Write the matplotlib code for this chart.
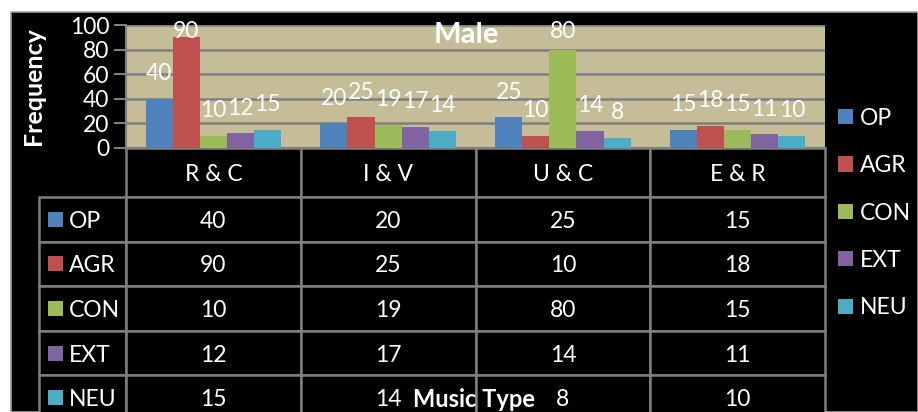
import matplotlib
matplotlib.use("Agg")
import matplotlib.pyplot as plt
from matplotlib.patches import Rectangle
import numpy as np

plt.rcParams['font.family'] = ['Lato', 'DejaVu Sans']

categories = ["R & C", "I & V", "U & C", "E & R"]
series_names = ["OP", "AGR", "CON", "EXT", "NEU"]
OP = [40, 20, 25, 15]
AGR = [90, 25, 10, 18]
CON = [10, 19, 80, 15]
EXT = [12, 17, 14, 11]
NEU = [15, 14, 8, 10]
values = [OP, AGR, CON, EXT, NEU]
colors = ["#4F81BD", "#C0504D", "#9BBB59", "#8064A2", "#4BACC6"]
yticks = [0, 20, 40, 60, 80, 100]

W, H = 918, 412
fig = plt.figure(figsize=(W / 100, H / 100), dpi=100, facecolor="white")

def fx(px):
    return px / W

def fy(py):
    return 1 - py / H

GRAY = "#7F7F7F"
FS = 16.5

# overlay axes in pixel coordinates (background, table, annotations)
ov = fig.add_axes([0, 0, 1, 1])
ov.set_xlim(0, W)
ov.set_ylim(H, 0)
ov.axis("off")
ov.set_zorder(0)
ov.add_patch(Rectangle((11, 12), W - 11, H - 12, facecolor="black",
                       edgecolor="#A0A0A0", linewidth=1.2, zorder=0))

L, R, T, B = 126, 825, 25, 148
ax = fig.add_axes([fx(L), fy(B), fx(R) - fx(L), fy(T) - fy(B)])
ax.set_zorder(1)
ax.set_facecolor("#C4BD97")
ax.set_ylim(0, 100)
ax.set_xlim(-0.5, len(categories) - 0.5)
ax.set_yticks(yticks)
ax.set_yticklabels([str(t) for t in yticks], color="white", fontsize=FS)
ax.tick_params(axis="y", length=9, width=1.5, color=GRAY, pad=3)
ax.set_xticks([])
ax.grid(axis="y", color=GRAY, linewidth=1.8)
ax.set_axisbelow(True)
for s in ["top", "right"]:
    ax.spines[s].set_visible(False)
ax.spines["left"].set_color(GRAY)
ax.spines["left"].set_linewidth(1.5)
ax.spines["bottom"].set_color(GRAY)
ax.spines["bottom"].set_linewidth(1.5)

x = np.arange(len(categories))
n = len(series_names)
bw = 0.155
bars = []
for i, (name, vals, c) in enumerate(zip(series_names, values, colors)):
    xs = x + (i - (n - 1) / 2) * bw
    b = ax.bar(xs, vals, width=bw, color=c, label=name, zorder=3)
    bars.append(b)
    for xi, v in zip(xs, vals):
        yb = min(v + 15.2, 89.4)
        ax.text(xi, yb, str(v), ha="center", va="baseline", color="white", fontsize=FS, zorder=4)

ax.set_ylabel("Frequency", color="white", fontsize=18, fontweight="bold")
ax.yaxis.set_label_coords((45 - L) / (R - L), 0.5)

ov2 = fig.add_axes([0, 0, 1, 1])
ov2.set_xlim(0, W)
ov2.set_ylim(H, 0)
ov2.axis("off")
ov2.set_zorder(2)
ov2.patch.set_alpha(0)

ov2.text(466, 43, "Male", ha="center", va="baseline", color="white",
         fontsize=21, fontweight="bold")

# data table below the chart
tab_left, tab_top = 39, 148
hdr_h, row_h = 49, 44.6
col_edges = np.linspace(L, R, len(categories) + 1)
lw_t = 1.8
for j, cat in enumerate(categories):
    ov.add_patch(Rectangle((col_edges[j], tab_top), col_edges[j + 1] - col_edges[j], hdr_h,
                           facecolor="black", edgecolor=GRAY, linewidth=lw_t, zorder=2))
    ov.text((col_edges[j] + col_edges[j + 1]) / 2, tab_top + hdr_h / 2, cat, ha="center",
            va="center_baseline", color="white", fontsize=FS, zorder=3)
for i, name in enumerate(series_names):
    y0 = tab_top + hdr_h + row_h * i
    ov.add_patch(Rectangle((tab_left, y0), L - tab_left, row_h, facecolor="black",
                           edgecolor=GRAY, linewidth=lw_t, zorder=2))
    ov.add_patch(Rectangle((48, y0 + row_h / 2 - 7.5), 15, 15, facecolor=colors[i],
                           edgecolor="none", zorder=3))
    ov.text(69, y0 + row_h / 2, name, ha="left", va="center_baseline", color="white",
            fontsize=FS, zorder=3)
    for j in range(len(categories)):
        ov.add_patch(Rectangle((col_edges[j], y0), col_edges[j + 1] - col_edges[j], row_h,
                               facecolor="black", edgecolor=GRAY, linewidth=lw_t, zorder=2))
        ov.text((col_edges[j] + col_edges[j + 1]) / 2, y0 + row_h / 2, str(values[i][j]),
                ha="center", va="center_baseline", color="white", fontsize=FS, zorder=3)

ov2.text(474, 407, "Music Type", ha="center", va="baseline", color="white",
         fontsize=17, fontweight="bold")

leg = fig.legend(handles=bars, labels=series_names, loc="center left",
                 bbox_to_anchor=(fx(838), fy(213)), frameon=False, fontsize=FS,
                 labelcolor="white", handlelength=0.65, handleheight=0.65,
                 handletextpad=0.3, labelspacing=1.15, borderpad=0, borderaxespad=0)

fig.savefig("out.png", dpi=100, facecolor=fig.get_facecolor())
